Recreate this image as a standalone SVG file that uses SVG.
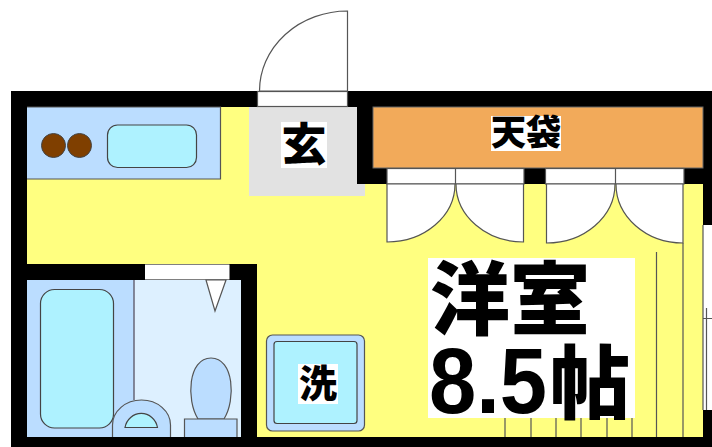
<svg xmlns="http://www.w3.org/2000/svg" width="712" height="447" viewBox="0 0 712 447">
<style>
.w{fill:#000}
.o{fill:#fff;stroke:none}
.l{fill:none;stroke:#555;stroke-width:1.2}
.d{fill:#fff;stroke:#555;stroke-width:1.2}
.b{fill:#bbddff;stroke:#555;stroke-width:1.2}
.c{fill:#aef2ff;stroke:#444;stroke-width:1.2}
.t{font-family:"Noto Sans CJK JP","Liberation Sans",sans-serif;font-weight:900;fill:#000;text-anchor:middle}
</style>
<rect width="712" height="447" fill="#fff"/>
<g id="floor">
<rect x="27" y="107" width="676" height="330" fill="#ffff80"/>
<rect x="249" y="107" width="116" height="89" fill="#e2e2e2"/>
</g>
<g id="walls">
<rect class="w" x="11" y="91" width="701" height="16"/>
<rect class="w" x="11" y="91" width="16" height="356"/>
<rect class="w" x="11" y="437" width="701" height="10"/>
<rect class="w" x="357" y="91" width="16" height="93"/>
<rect class="w" x="373" y="168" width="330" height="16"/>
<rect class="w" x="703" y="91" width="9" height="134"/>
<rect class="w" x="703" y="410" width="9" height="37"/>
<rect class="w" x="11" y="264" width="246" height="16"/>
<rect class="w" x="241" y="264" width="16" height="183"/>
</g>
<g id="entry-door">
<rect class="d" x="257.500" y="91.500" width="90" height="15"/>
<path class="d" d="M259.500 91A88 80 0 0 1 347.500 11V91Z"/>
</g>
<g id="kitchen">
<rect x="27" y="107" width="193.500" height="72" fill="#bbddff"/>
<path class="l" d="M27 107H220.500V179H27"/>
<circle cx="53.500" cy="145.500" r="12" fill="#7f3f00" stroke="#444"/>
<circle cx="79.500" cy="145.500" r="12" fill="#7f3f00" stroke="#444"/>
<rect class="c" x="107.500" y="125" width="89" height="42.500" rx="10"/>
</g>
<g id="genkan">
<rect class="o" x="281" y="122" width="46" height="46"/>
<text class="t" x="304" y="161" font-size="45">玄</text>
</g>
<g id="closet">
<rect x="373" y="107" width="330" height="61" fill="#f2aa5a" stroke="#666"/>
<rect class="o" x="491" y="116" width="70" height="35"/>
<text class="t" x="526" y="145" font-size="35">天袋</text>
<rect class="d" x="387" y="168.500" width="137" height="15.500"/>
<rect class="d" x="545.500" y="168.500" width="138.500" height="15.500"/>
<path class="l" d="M455.500 168.500V184M615.500 168.500V184"/>
<path class="d" d="M387 184V242A68 58 0 0 0 455 184Z"/>
<path class="d" d="M523.500 184V242A67.500 58 0 0 1 456 184Z"/>
<path class="d" d="M546.500 184V243A68.500 59 0 0 0 615 184Z"/>
<path class="d" d="M683 184V243A67 59 0 0 1 616 184Z"/>
</g>
<g id="bathroom">
<rect x="27" y="280" width="107" height="157" fill="#bbddff"/>
<rect x="134" y="280" width="107" height="157" fill="#ddf0ff"/>
<path d="M134 280V400" fill="none" stroke="#667" stroke-width="1.500"/>
<rect class="c" x="40.500" y="289.500" width="73" height="138.500" rx="14"/>
<rect class="o" x="145" y="264.500" width="84.500" height="15"/>
<path class="d" d="M206 280L215 311L226 280Z"/>
<path class="b" d="M112.500 437V425A29 25 0 0 1 170.500 425V437"/>
<path class="c" d="M125 427.500A16.500 17 0 0 1 157.500 427.500Z"/>
<path class="b" d="M198 419C186 400 188 358 211 358C234 358 236 400 224 419Z"/>
<path class="b" d="M184.500 437V419H237V437"/>
</g>
<g id="washer">
<rect class="b" x="266.500" y="335" width="98" height="96" rx="6"/>
<rect class="c" x="274" y="341.500" width="83" height="82" rx="3" stroke-width="1.500"/>
<rect class="o" x="298" y="364" width="40" height="40"/>
<text class="t" x="318" y="397" font-size="38">洗</text>
</g>
<g id="room-label">
<rect class="o" x="428" y="258" width="207" height="160"/>
<text class="t" x="510" y="328" font-size="80">洋室</text>
<text x="429" y="412.500" font-family="'Liberation Sans',sans-serif" font-weight="700" font-size="93" textLength="118" lengthAdjust="spacingAndGlyphs">8.5</text>
<text class="t" x="590" y="412" font-size="80">帖</text>
</g>
<g id="lines">
<path class="l" d="M656.500 252V437M683 243V437M505 418V437M531 418V437M556 418V437M581 418V437M607 418V437M632 418V437"/>
<path class="l" d="M703 225V410M706.500 308V410M703 318.500H712"/>
</g>
</svg>
